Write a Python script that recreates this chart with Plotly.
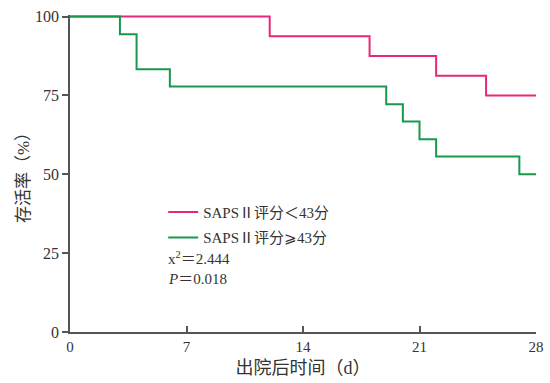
import plotly.graph_objects as go

# Kaplan-Meier survival data (days, survival %)
low_days = [0, 12, 18, 22, 25, 28]
low_surv = [100, 93.75, 87.5, 81.25, 75, 75]
high_days = [0, 3, 4, 6, 19, 20, 21, 22, 27, 28]
high_surv = [100, 94.4, 83.3, 77.8, 72.2, 66.7, 61.1, 55.6, 50, 50]
x_ticks = [0, 7, 14, 21, 28]
y_ticks = [0, 25, 50, 75, 100]
names = ["SAPSⅡ评分＜43分", "SAPSⅡ评分⩾43分"]
stat_lines = ["х<sup>2</sup>＝2.444", "<i>P</i>＝0.018"]

FONT = "Liberation Serif, Noto Sans CJK SC, serif"
PINK = "#E8277A"
GREEN = "#17994C"

fig = go.Figure()
fig.add_trace(go.Scatter(x=low_days, y=low_surv, mode="lines", line_shape="hv",
                         line=dict(color=PINK, width=2), name=names[0], legendgroup="a"))
fig.add_trace(go.Scatter(x=high_days, y=high_surv, mode="lines", line_shape="hv",
                         line=dict(color=GREEN, width=2), name=names[1], legendgroup="b"))

for i, t in enumerate(stat_lines):
    fig.add_annotation(x=0.207, y=0.235 - i * 0.067, xref="paper", yref="paper",
                       text=t, showarrow=False, xanchor="left", yanchor="middle",
                       font=dict(family=FONT, size=15, color="#333"))

fig.update_layout(
    width=550, height=383,
    margin=dict(l=70, r=14, t=15, b=51, autoexpand=False),
    paper_bgcolor="white", plot_bgcolor="white",
    font=dict(family=FONT, size=15, color="#333"),
    showlegend=True,
    legend=dict(x=0.2, y=0.43, xanchor="left", yanchor="top",
                bgcolor="rgba(0,0,0,0)", font=dict(family=FONT, size=15, color="#333"),
                itemwidth=30, tracegroupgap=3),
    xaxis=dict(range=[0, 28], tickvals=x_ticks, showgrid=False, zeroline=False,
               showline=True, linecolor="#555", linewidth=1.5, automargin=False,
               ticks="inside", ticklen=6, tickcolor="#555", tickwidth=1.5,
               tickfont=dict(size=15),
               title=dict(text="出院后时间（d）", font=dict(family=FONT, size=18), standoff=8)),
    yaxis=dict(range=[0, 100.5], tickvals=y_ticks, showgrid=False, zeroline=False,
               showline=True, linecolor="#555", linewidth=1.5, automargin=False,
               ticks="outside", ticklen=6, tickcolor="#555", tickwidth=1.5,
               tickfont=dict(size=16),
               title=dict(text="存活率（%）", font=dict(family=FONT, size=17), standoff=1)),
)

fig.write_html("out.html", config={"displayModeBar": False},
               post_script="document.body.style.margin='0';document.body.style.overflow='hidden';")
